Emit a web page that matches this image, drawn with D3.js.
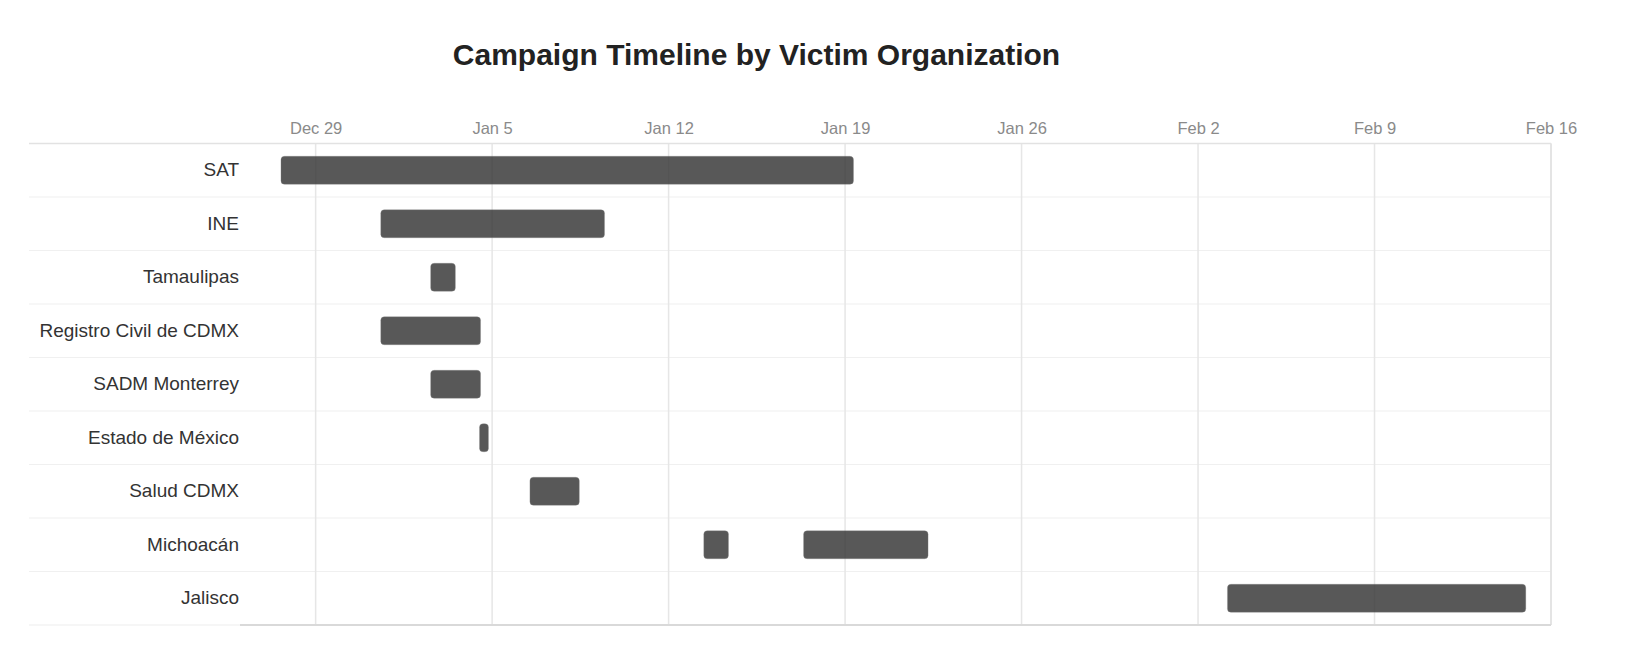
<!DOCTYPE html>
<html>
<head>
<meta charset="utf-8">
<script src="https://cdn.jsdelivr.net/npm/d3@7"></script>
<style>
  body { margin: 0; background: #fff; }
  text { font-family: "Liberation Sans", Arial, Helvetica, sans-serif; }
</style>
</head>
<body>
<script>
// rows of the chart, top to bottom
var orgRows = ["SAT", "INE", "Tamaulipas", "Registro Civil de CDMX", "SADM Monterrey",
  "Estado de México", "Salud CDMX", "Michoacán", "Jalisco"];

// one entry per campaign bar
var barOrg = ["SAT", "INE", "Tamaulipas", "Registro Civil de CDMX", "SADM Monterrey",
  "Estado de México", "Salud CDMX", "Michoacán", "Michoacán", "Jalisco"];
var barStart = ["2024-12-27 15:00", "2024-12-31 14:00", "2025-01-02 13:30", "2024-12-31 14:00",
  "2025-01-02 13:30", "2025-01-04 12:00", "2025-01-06 12:00", "2025-01-13 09:30",
  "2025-01-17 08:30", "2025-02-03 04:00"];
var barEnd = ["2025-01-19 08:00", "2025-01-09 11:00", "2025-01-03 13:00", "2025-01-04 13:00",
  "2025-01-04 13:00", "2025-01-04 20:30", "2025-01-08 11:00", "2025-01-14 09:00",
  "2025-01-22 07:00", "2025-02-15 00:00"];

// x axis extent
var domainStart = "2024-12-26 00:00";
var domainEnd = "2025-02-16 00:00";

var svgWidth = 1634;
var svgHeight = 662;
var margin = { top: 143.5, right: 83, bottom: 37, left: 240 };
var rowLineLeft = 29;

var parseTime = d3.timeParse("%Y-%m-%d %H:%M");

var svg = d3.select("body")
  .append("svg")
  .attr("width", svgWidth)
  .attr("height", svgHeight);

var xRight = svgWidth - margin.right;
var yBottom = svgHeight - margin.bottom;

var x = d3.scaleTime()
  .domain([parseTime(domainStart), parseTime(domainEnd)])
  .range([margin.left, xRight]);

var y = d3.scaleBand()
  .domain(orgRows)
  .range([margin.top, yBottom])
  .padding(0);

var bars = barOrg.map(function (o, i) {
  return { org: o, start: parseTime(barStart[i]), end: parseTime(barEnd[i]) };
});

// title
svg.append("text")
  .attr("x", 756.5)
  .attr("y", 65)
  .attr("text-anchor", "middle")
  .style("font-size", "30px")
  .style("font-weight", "bold")
  .style("fill", "#222")
  .text("Campaign Timeline by Victim Organization");

var ticks = x.ticks(d3.timeSunday.every(1));

// row separators
svg.append("g")
  .selectAll("line")
  .data(orgRows.slice(1))
  .enter()
  .append("line")
  .attr("x1", rowLineLeft)
  .attr("x2", xRight)
  .attr("y1", function (d) { return y(d); })
  .attr("y2", function (d) { return y(d); })
  .attr("stroke", "#f0f0f0")
  .attr("stroke-width", 1.2);

// vertical gridlines
svg.append("g")
  .selectAll("line")
  .data(ticks)
  .enter()
  .append("line")
  .attr("x1", function (d) { return x(d); })
  .attr("x2", function (d) { return x(d); })
  .attr("y1", margin.top)
  .attr("y2", yBottom)
  .attr("stroke", "#e6e6e6")
  .attr("stroke-width", 1.5);

// frame
svg.append("line")
  .attr("x1", rowLineLeft).attr("x2", xRight)
  .attr("y1", margin.top).attr("y2", margin.top)
  .attr("stroke", "#e2e2e2").attr("stroke-width", 1.5);
svg.append("line")
  .attr("x1", xRight).attr("x2", xRight)
  .attr("y1", margin.top).attr("y2", yBottom)
  .attr("stroke", "#e2e2e2").attr("stroke-width", 1.5);
svg.append("line")
  .attr("x1", rowLineLeft).attr("x2", margin.left)
  .attr("y1", yBottom).attr("y2", yBottom)
  .attr("stroke", "#eeeeee").attr("stroke-width", 1.2);
svg.append("line")
  .attr("x1", margin.left).attr("x2", xRight)
  .attr("y1", yBottom).attr("y2", yBottom)
  .attr("stroke", "#d9d9d9").attr("stroke-width", 2);

// top axis labels
var xAxis = d3.axisTop(x)
  .tickValues(ticks)
  .tickFormat(d3.timeFormat("%b %-d"))
  .tickSize(0)
  .tickPadding(9.5);

var gx = svg.append("g")
  .attr("transform", "translate(0," + margin.top + ")")
  .call(xAxis);
gx.select(".domain").remove();
gx.selectAll("text")
  .style("font-size", "16.5px")
  .style("font-family", "'Liberation Sans', Arial, sans-serif")
  .attr("fill", "#8a8a8a");

// row labels
var yAxis = d3.axisLeft(y).tickSize(0).tickPadding(1);
var gy = svg.append("g")
  .attr("transform", "translate(" + margin.left + ",0)")
  .call(yAxis);
gy.select(".domain").remove();
gy.selectAll("text")
  .style("font-size", "19px")
  .style("font-family", "'Liberation Sans', Arial, sans-serif")
  .attr("fill", "#333");

// bars
var barH = 28;
svg.append("g")
  .selectAll("rect")
  .data(bars)
  .enter()
  .append("rect")
  .attr("x", function (d) { return x(d.start); })
  .attr("width", function (d) { return x(d.end) - x(d.start); })
  .attr("y", function (d) { return y(d.org) + (y.bandwidth() - barH) / 2; })
  .attr("height", barH)
  .attr("rx", 3.5)
  .attr("fill", "#333")
  .attr("fill-opacity", 0.82)
  .attr("stroke", "#888")
  .attr("stroke-opacity", 0.3)
  .attr("stroke-width", 1);
</script>
</body>
</html>
